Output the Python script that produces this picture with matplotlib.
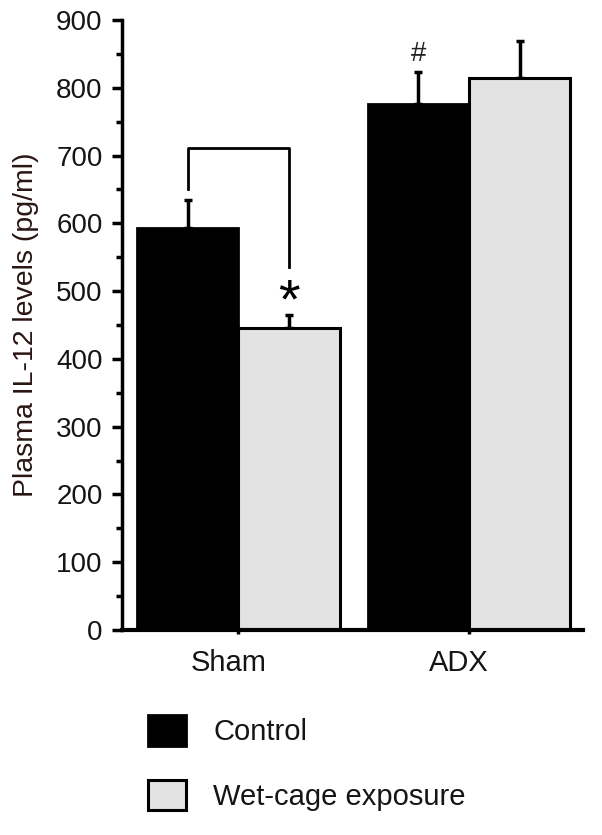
import numpy as np
import matplotlib.pyplot as plt
import matplotlib.transforms as mtransforms
from matplotlib.ticker import MultipleLocator

plt.rcParams['font.family'] = ['Liberation Sans', 'DejaVu Sans']

groups = ['Sham', 'ADX']
control = [593, 776]
control_err = [42, 47]
wetcage = [445, 815]
wetcage_err = [20, 54]
labels = ['Control', 'Wet-cage exposure']

txt = '#151515'
w = 0.44
x = np.arange(len(groups))

fig = plt.figure(figsize=(6.02, 8.35), dpi=100)
ax = fig.add_axes([0.2027, 0.2455, 0.766, 0.7305])

b1 = ax.bar(x - w / 2, control, w, color='black', edgecolor='black', linewidth=2,
            label=labels[0], zorder=2)
b2 = ax.bar(x + w / 2, wetcage, w, color='#e3e3e3', edgecolor='black', linewidth=2.2,
            label=labels[1], zorder=2)
ax.errorbar(x - w / 2, control, yerr=[np.zeros(2), control_err], fmt='none',
            ecolor='black', elinewidth=2.5, capsize=3, capthick=2.5, zorder=1)
ax.errorbar(x + w / 2, wetcage, yerr=[np.zeros(2), wetcage_err], fmt='none',
            ecolor='black', elinewidth=2.5, capsize=3, capthick=2.5, zorder=1)

# significance bracket and marks
ax.plot([-w / 2, -w / 2, w / 2, w / 2], [651, 711, 711, 536], color='black', lw=2)
ax.text(w / 2, 482, '*', ha='center', va='center', fontsize=40, color='black')
ax.text(1 - w / 2, 850, '#', ha='center', va='center', fontsize=20, color='#222222')

ax.set_xlim(-0.505, 1.495)
ax.set_ylim(0, 900)
ax.yaxis.set_major_locator(MultipleLocator(100))
ax.yaxis.set_minor_locator(MultipleLocator(50))
ax.set_xticks(x)
ax.set_xticklabels(groups)

for s in ['top', 'right']:
    ax.spines[s].set_visible(False)
ax.spines['left'].set_linewidth(2.5)
ax.spines['bottom'].set_linewidth(3)
ax.tick_params(axis='y', which='major', direction='out', length=7, width=2.5,
               labelsize=20, labelcolor=txt, pad=7)
ax.tick_params(axis='y', which='minor', direction='out', length=4, width=2.5)
ax.tick_params(axis='x', direction='out', length=3, width=2.5, labelsize=21,
               labelcolor=txt, pad=11)
shift = mtransforms.ScaledTranslation(-10 / 100, 0, fig.dpi_scale_trans)
for lab in ax.get_xticklabels():
    lab.set_transform(lab.get_transform() + shift)

ax.set_ylabel('Plasma IL-12 levels (pg/ml)', fontsize=20.5, color='#2a1515', labelpad=12)

fig.legend(handles=[b1, b2], loc='upper left', bbox_to_anchor=(0.203, 0.175),
           frameon=False, fontsize=21, handlelength=1.3, handleheight=1.25,
           labelspacing=1.14, handletextpad=0.93, labelcolor=txt)

fig.savefig('out.png', dpi=100)
